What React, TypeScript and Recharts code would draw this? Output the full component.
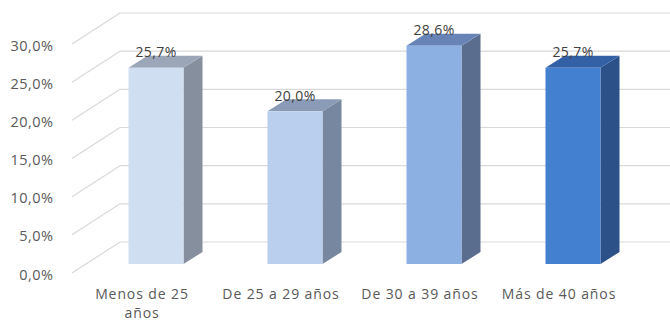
import { Bar, BarChart, CartesianGrid, Cell, LabelList, XAxis, YAxis } from "recharts";

const categories = ["Menos de 25 años", "De 25 a 29 años", "De 30 a 39 años", "Más de 40 años"];
const shares = [25.7, 20.0, 28.6, 25.7];
const yTicks = [0, 5, 10, 15, 20, 25, 30];

// face colours per bar: front / right side / top
const FRONT = ["#D0DEF2", "#BACEEE", "#8DB0E2", "#4380D0"];
const SIDE = ["#858F9D", "#77879F", "#5A6D8E", "#2B5188"];
const TOP = ["#9BA7B8", "#8A9BB7", "#6884B7", "#3461A5"];

const DX = 19; // bar depth, px
const DY = 12;
const FONT = "'Open Sans', sans-serif";

const pct = (v: number) => `${v.toFixed(1).replace(".", ",")}%`;

function Box3D(props: any) {
  const { x, y, width, height, index } = props;
  const r = x + width;
  const b = y + height;
  return (
    <g>
      <polygon points={`${r},${y} ${r + DX},${y - DY} ${r + DX},${b - DY} ${r},${b}`} fill={SIDE[index]} />
      <polygon points={`${x},${y} ${x + DX},${y - DY} ${r + DX},${y - DY} ${r},${y}`} fill={TOP[index]} />
      <rect x={x} y={y} width={width} height={height} fill={FRONT[index]} />
    </g>
  );
}

// back wall line + diagonal running to the front edge
function GridLine(props: any) {
  const { x1, x2, y1 } = props;
  return (
    <g key={props.key}>
      <line x1={x1 - 14.5} y1={y1 + 9} x2={x1 + 33.5} y2={y1 - 22} stroke="#D9D9D9" strokeWidth={1.2} />
      <line x1={x1 + 33.5} y1={y1 - 22} x2={x2 + 30} y2={y1 - 22} stroke="#D9D9D9" strokeWidth={1.2} />
    </g>
  );
}

function YTick(props: any) {
  const { x, y, payload } = props;
  return (
    <text x={x - 31} y={y + 10} textAnchor="end" dominantBaseline="central" fill="#595959" fontSize={14.5} letterSpacing={0.5} fontFamily={FONT}>
      {pct(payload.value)}
    </text>
  );
}

function XTick(props: any) {
  const { x, y, payload } = props;
  const s: string = payload.value;
  let lines = [s];
  if (s.length > 15) {
    const cut = s.lastIndexOf(" ");
    lines = [s.slice(0, cut), s.slice(cut + 1)];
  }
  const cx = x - 14; // labels sit under the front edge of the floor
  return (
    <text x={cx} y={y} textAnchor="middle" fill="#595959" fontSize={14} letterSpacing={0.9} fontFamily={FONT}>
      {lines.map((l, i) => (
        <tspan key={i} x={cx} dy={i === 0 ? 33 : 19}>{l}</tspan>
      ))}
    </text>
  );
}

function TopLabel(props: any) {
  const { x, y, width, value } = props;
  return (
    <text x={x + width / 2} y={y - 16} textAnchor="middle" dominantBaseline="central" fill="#404040" fontSize={14} letterSpacing={0.4} fontFamily={FONT}>
      {pct(value)}
    </text>
  );
}

export default function App() {
  const data = categories.map((c, i) => ({ category: c, value: shares[i] }));
  return (
    <div style={{ position: "absolute", left: 0, top: 0, background: "#fff" }}>
      <BarChart width={670} height={321} data={data} margin={{ top: 35, right: 27.5, bottom: 0, left: 0 }}>
        <CartesianGrid vertical={false} horizontal={GridLine} />
        <XAxis dataKey="category" axisLine={false} tickLine={false} tickSize={0} tick={XTick} interval={0} height={57} />
        <YAxis domain={[0, 30]} ticks={yTicks} axisLine={false} tickLine={false} tickSize={0} tick={YTick} width={86.5} />
        <Bar dataKey="value" barSize={55} shape={Box3D} isAnimationActive={false}>
          {data.map((_, i) => <Cell key={i} fill={FRONT[i]} />)}
          <LabelList dataKey="value" content={TopLabel} />
        </Bar>
      </BarChart>
    </div>
  );
}
